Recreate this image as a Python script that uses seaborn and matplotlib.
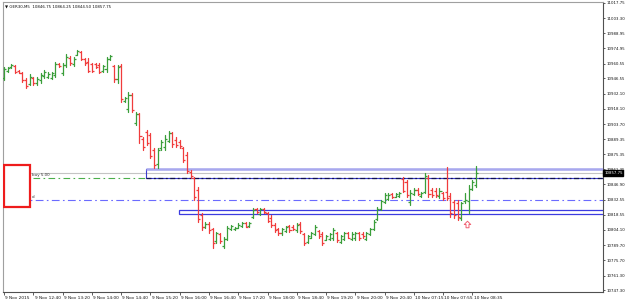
import numpy as np
import pandas as pd
import matplotlib
matplotlib.use("Agg")
import matplotlib.pyplot as plt
from matplotlib.patches import Rectangle
from matplotlib.path import Path
import matplotlib.transforms as mtransforms
import seaborn as sns

# ---------------- data (GER30, M5) ----------------
open_ = [10947, 10954, 10957, 10958, 10954, 10952, 10945, 10941, 10947, 10942,
         10945, 10949, 10948, 10947, 10950, 10960, 10952, 10959, 10966, 10960,
         10969, 10971, 10965, 10962, 10960, 10960, 10959, 10954, 10955, 10965,
         10958, 10946, 10958, 10925, 10918, 10931, 10905, 10913, 10890, 10896,
         10893, 10879, 10866, 10881, 10882, 10888, 10895, 10889, 10887, 10881,
         10875, 10859, 10853, 10842, 10818, 10807, 10810, 10805, 10794, 10800,
         10789, 10796, 10805, 10805, 10806, 10808, 10811, 10807.5, 10816, 10824,
         10819, 10824, 10820, 10815, 10809, 10805, 10801, 10803, 10808, 10807,
         10804, 10810, 10800, 10793, 10797, 10800, 10803, 10800, 10795, 10796,
         10797, 10801, 10793, 10796, 10801, 10796, 10797, 10801, 10800, 10796,
         10800, 10805, 10814, 10824, 10830, 10833, 10838, 10835.5, 10836, 10852,
         10849, 10830, 10838, 10842, 10836, 10840, 10853, 10842, 10841, 10836,
         10839, 10840, 10836, 10830, 10829, 10815, 10831, 10831, 10843, 10846.75]
high = [10957.6, 10957.3, 10960.1, 10959.2, 10954.5, 10952.6, 10947.0, 10950.7, 10947.9, 10947.9,
        10951.7, 10954.5, 10952.6, 10952.6, 10962.0, 10961.1, 10961.1, 10969.5, 10967.7, 10966.7,
        10973.3, 10972.4, 10965.8, 10965.8, 10961.1, 10961.1, 10961.1, 10959.2, 10966.7, 10968.6,
        10959.2, 10959.2, 10960.1, 10929.1, 10933.8, 10932.9, 10915.0, 10914.1, 10891.5, 10898.1,
        10895.3, 10881.2, 10881.2, 10888.7, 10893.4, 10897.2, 10896.2, 10891.5, 10888.7, 10882.1,
        10877.4, 10860.5, 10853.9, 10844.5, 10820.1, 10811.6, 10811.6, 10806.0, 10802.2, 10801.3,
        10797.5, 10807.9, 10808.8, 10806.9, 10810.7, 10811.6, 10811.6, 10811.6, 10824.8, 10824.8,
        10824.8, 10824.8, 10821.0, 10818.2, 10810.7, 10806.0, 10806.0, 10807.9, 10808.8, 10808.8,
        10810.7, 10811.6, 10801.3, 10799.4, 10802.2, 10808.8, 10804.1, 10802.2, 10799.4, 10801.3,
        10806.0, 10802.2, 10799.4, 10802.2, 10802.2, 10802.2, 10802.2, 10802.2, 10802.2, 10802.2,
        10806.0, 10813.5, 10825.7, 10832.3, 10838.9, 10838.9, 10838.9, 10838.9, 10839.8, 10853.9,
        10851.1, 10841.7, 10843.6, 10843.6, 10839.8, 10857.7, 10855.8, 10843.6, 10843.6, 10843.6,
        10839.8, 10863.3, 10838.9, 10832.3, 10832.3, 10830.4, 10838.9, 10846.4, 10851.1, 10864.25]
low = [10945.1, 10952.6, 10956.4, 10951.7, 10951.7, 10943.2, 10937.6, 10940.4, 10940.4, 10940.4,
       10942.3, 10947.0, 10947.0, 10946.0, 10947.9, 10957.3, 10949.8, 10957.3, 10959.2, 10958.3,
       10968.6, 10963.9, 10959.2, 10952.6, 10952.6, 10956.4, 10951.7, 10952.6, 10952.6, 10963.9,
       10943.2, 10942.3, 10924.4, 10924.4, 10915.0, 10915.0, 10902.8, 10885.9, 10879.3, 10884.0,
       10871.8, 10862.4, 10862.4, 10879.3, 10879.3, 10886.8, 10882.1, 10882.1, 10881.2, 10868.0,
       10857.7, 10853.0, 10832.3, 10811.6, 10804.1, 10806.0, 10801.3, 10787.2, 10791.9, 10791.9,
       10787.2, 10794.7, 10804.1, 10804.1, 10806.0, 10806.9, 10806.9, 10807.0, 10815.4, 10820.1,
       10818.2, 10820.1, 10811.6, 10806.9, 10802.2, 10799.4, 10799.4, 10802.2, 10802.2, 10804.1,
       10802.2, 10801.3, 10790.0, 10791.9, 10796.6, 10799.4, 10796.6, 10790.0, 10794.7, 10794.7,
       10794.7, 10792.8, 10791.9, 10794.7, 10796.6, 10794.7, 10794.7, 10794.7, 10796.6, 10794.7,
       10799.4, 10804.1, 10813.5, 10822.9, 10829.5, 10832.3, 10834.2, 10835.1, 10835.1, 10839.8,
       10835.1, 10827.6, 10837.0, 10837.0, 10835.1, 10838.9, 10835.1, 10835.1, 10835.1, 10834.2,
       10832.3, 10832.3, 10816.3, 10815.4, 10813.5, 10813.5, 10829.5, 10820.1, 10841.7, 10844.5]
close = [10955, 10956, 10959, 10953, 10952, 10945, 10939, 10948, 10942, 10946,
         10950, 10953, 10951, 10952, 10960, 10958, 10959, 10967, 10961, 10965,
         10972, 10965, 10961, 10954, 10954, 10957, 10953, 10958, 10965, 10968,
         10946, 10957, 10927, 10928, 10931, 10917, 10913, 10892, 10882, 10886,
         10874, 10865, 10879, 10887, 10890, 10895, 10885, 10884, 10883, 10870,
         10860, 10855, 10835, 10814, 10807, 10810, 10804, 10792, 10801, 10794,
         10796, 10806, 10808, 10806, 10809, 10811, 10807, 10811, 10823, 10821,
         10824, 10821, 10813, 10809, 10804, 10801, 10805, 10807, 10804, 10805,
         10809, 10803, 10792, 10798, 10801, 10807, 10798, 10792, 10798, 10800,
         10804, 10795, 10798, 10801, 10797, 10800, 10801, 10797, 10798, 10801,
         10805, 10812, 10824, 10831, 10837, 10837, 10835, 10838, 10839, 10841,
         10837, 10839, 10842, 10838, 10839, 10855, 10838, 10837, 10837, 10841,
         10834, 10834, 10820, 10818, 10816, 10829, 10832, 10843, 10849, 10857.75]

time_labels = ["9 Nov 2015", "9 Nov 12:40", "9 Nov 13:20", "9 Nov 14:00", "9 Nov 14:40",
               "9 Nov 15:20", "9 Nov 16:00", "9 Nov 16:40", "9 Nov 17:20", "9 Nov 18:00",
               "9 Nov 18:40", "9 Nov 19:20", "9 Nov 20:00", "9 Nov 20:40",
               "10 Nov 07:15", "10 Nov 07:55", "10 Nov 08:35"]
label_step = 8

price_ticks = [11017.75, 11003.30, 10988.95, 10974.95, 10960.55, 10946.55, 10932.10,
               10918.10, 10903.70, 10889.35, 10875.35, 10861.35, 10846.90, 10832.55,
               10818.55, 10804.10, 10789.70, 10775.70, 10761.30, 10747.30]

symbol = "GER30,M5"
bid = 10857.75
buy_level = 10852.7
blue_level = 10832.3
zone1 = (38.8, 10852.7, 10861.7)   # start bar, bottom, top
zone2 = (47.9, 10818.9, 10822.6)
arrow_bar, arrow_price = 126.6, 10809.7

# ---------------- styling ----------------
sns.set_theme(style="white")
plt.rcParams['font.family'] = ['DejaVu Sans']

GREEN = "#3a9e3a"
RED = "#f03c3c"
FS_Y = 2.75
FS_X = 3.1
FS_T = 2.9

fig = plt.figure(figsize=(6.25, 3.01), dpi=100)
fig.patch.set_facecolor("white")
ax = fig.add_axes([3 / 625, 9 / 301, 600 / 625, 290 / 301])
ax.set_facecolor("white")

n = len(open_)
idx = np.arange(n)
direction = np.where(np.array(close) >= np.array(open_), "up", "down")
pal = {"up": GREEN, "down": RED}

seg = pd.DataFrame({
    "bar": np.repeat(idx, 2),
    "price": np.ravel(np.column_stack([high, low])),
    "dir": np.repeat(direction, 2),
})
sns.lineplot(data=seg, x="bar", y="price", units="bar", estimator=None, hue="dir",
             palette=pal, lw=0.9, legend=False, sort=False, ax=ax, zorder=4)

ticks_df = pd.DataFrame({"bar": idx, "open": open_, "close": close, "dir": direction})
sns.scatterplot(data=ticks_df, x="bar", y="open", hue="dir", palette=pal, marker=0,
                s=2.2, linewidth=0.9, legend=False, ax=ax, zorder=4)
sns.scatterplot(data=ticks_df, x="bar", y="close", hue="dir", palette=pal, marker=1,
                s=2.2, linewidth=0.9, legend=False, ax=ax, zorder=4)

xmax = 163.7
ax.set_xlim(-0.3, xmax)
ax.set_ylim(10745.8, 11018.4)

# horizontal objects
ax.axhline(bid, color="#c4c4c4", lw=0.8, zorder=2)
ax.axhline(buy_level, color="#4caf4c", lw=0.8, ls=(0, (6, 3, 1.5, 3)), zorder=2)
ax.axhline(blue_level, color="#6b6bff", lw=0.8, ls=(0, (7, 3, 1.5, 3)), zorder=2)

# zone 1
ax.add_patch(Rectangle((zone1[0], zone1[1]), xmax + 5 - zone1[0], zone1[2] - zone1[1],
                       fill=False, edgecolor="#3c3cd0", lw=0.8, zorder=3))
ax.plot([zone1[0], xmax + 5], [zone1[2], zone1[2]], color="#a8a8ee", lw=1.8, zorder=3,
        solid_capstyle="butt")
ax.plot([zone1[0], xmax + 5], [zone1[1], zone1[1]], color="#101050", lw=0.9,
        ls=(0, (4, 2, 1.5, 2)), zorder=3)
# zone 2
ax.add_patch(Rectangle((zone2[0], zone2[1]), xmax + 5 - zone2[0], zone2[2] - zone2[1],
                       fill=False, edgecolor="#3c3ce0", lw=0.9, zorder=3))

# left red box
ax.add_patch(Rectangle((-0.05, 10826.0), 7.0, 10865.0 - 10826.0, facecolor="white",
                       edgecolor="#ee1c1c", lw=1.6, zorder=6))
ax.text(7.5, buy_level + 0.8, "buy 5.00", fontsize=FS_T, color="#333333",
        va="bottom", ha="left", zorder=5)
ax.text(7.5, blue_level + 1.0, "d", fontsize=FS_T, color="#333333",
        va="bottom", ha="left", zorder=5)

# arrow marker
arrow = Path([(0, 1), (-1, 0), (-0.45, 0), (-0.45, -1), (0.45, -1), (0.45, 0), (1, 0), (0, 1)],
             [Path.MOVETO] + [Path.LINETO] * 6 + [Path.CLOSEPOLY])
ax.scatter([arrow_bar], [arrow_price], marker=arrow, s=22, facecolor="white",
           edgecolor="#f06070", linewidths=0.7, zorder=6)

# title
ax.text(0.003, 0.99, "\u25bc " + symbol + "  10846.75 10864.25 10844.50 10857.75",
        transform=ax.transAxes, fontsize=FS_T, va="top", ha="left", color="#111111")

# axes
for name, sp in ax.spines.items():
    sp.set_visible(True)
    sp.set_color("#505050")
    sp.set_linewidth(0.8)
ax.spines["left"].set_color("#a0a0a0")
ax.spines["top"].set_color("#a0a0a0")

ax.yaxis.tick_right()
ax.set_yticks(price_ticks)
ax.set_yticklabels([f"{v:.2f}" for v in price_ticks])
ax.tick_params(axis="y", which="both", right=True, left=False, length=1.5, width=0.6,
               color="#404040", labelsize=FS_Y, pad=0.8, labelcolor="#111111")

xt = list(range(0, label_step * len(time_labels), label_step))
ax.set_xticks(xt)
ax.set_xticklabels(time_labels, ha="left")
ax.tick_params(axis="x", which="both", bottom=True, length=2, width=0.6, color="#404040",
               labelsize=FS_X, pad=0.8, labelcolor="#111111")
offset = mtransforms.ScaledTranslation(1.2 / 100, 0, fig.dpi_scale_trans)
for lab in ax.get_xticklabels():
    lab.set_transform(lab.get_transform() + offset)

ax.set_xlabel("")
ax.set_ylabel("")
ax.grid(False)

# current price label
trans = mtransforms.blended_transform_factory(ax.transAxes, ax.transData)
ax.text(1.002, bid, f"{bid:.2f}", transform=trans, fontsize=FS_Y, color="white",
        va="center", ha="left", zorder=10, clip_on=False,
        bbox=dict(boxstyle="square,pad=0.2", facecolor="black", edgecolor="black"))

fig.savefig("out.png", dpi=100, facecolor="white")
